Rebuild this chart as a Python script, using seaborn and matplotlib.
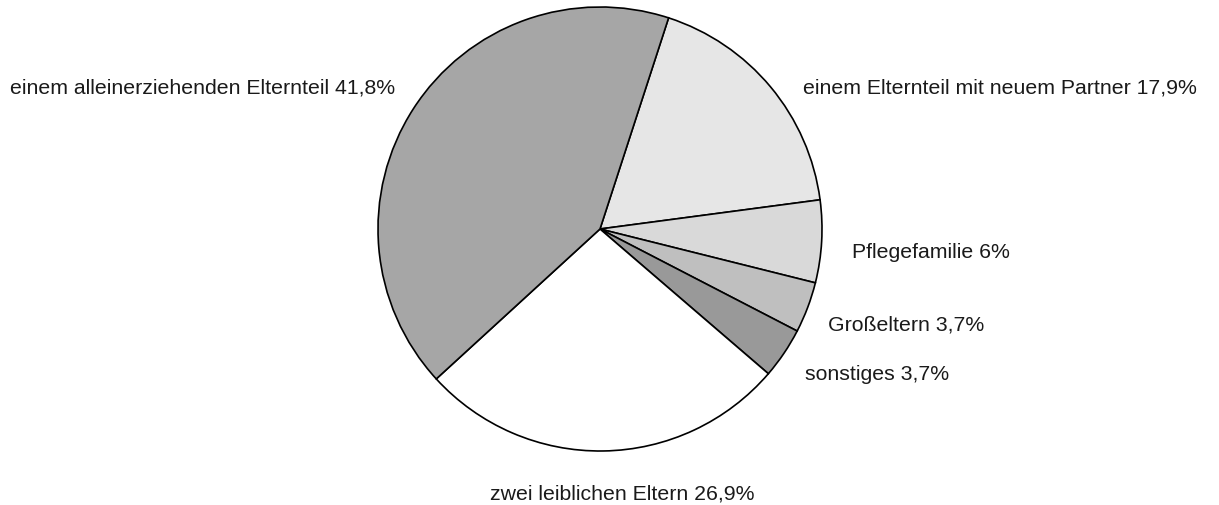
import matplotlib
matplotlib.use("Agg")
import matplotlib.pyplot as plt
import seaborn as sns

# clockwise from the top right edge
labels = [
    "einem Elternteil mit neuem Partner",
    "Pflegefamilie",
    "Großeltern",
    "sonstiges",
    "zwei leiblichen Eltern",
    "einem alleinerziehenden Elternteil",
]
shares = [17.9, 6, 3.7, 3.7, 26.9, 41.8]
share_text = ["17,9%", "6%", "3,7%", "3,7%", "26,9%", "41,8%"]
colors = ["#e6e6e6", "#d9d9d9", "#bfbfbf", "#999999", "#ffffff", "#a6a6a6"]

# label anchors in pixel space (x, y from top), layout only
label_pos = [(803, 88, "left"), (852, 252, "left"), (828, 325, "left"),
             (805, 375, "left"), (490, 494, "left"), (10, 88, "left")]

W, H = 1219, 506
sns.set_theme(style="white")
plt.rcParams["font.family"] = ["Liberation Sans", "DejaVu Sans"]

fig = plt.figure(figsize=(W / 100, H / 100), dpi=100)
ax = fig.add_axes([0, 0, 1, 1])
ax.pie(
    shares,
    colors=colors,
    startangle=72,
    counterclock=False,
    center=(600, H - 230),
    radius=222,
    frame=True,
    wedgeprops=dict(edgecolor="black", linewidth=1.2),
)
for name, val, (x, y, ha) in zip(labels, share_text, label_pos):
    ax.text(x, H - y, f"{name} {val}", ha=ha, va="center", fontsize=15.3, color="#1a1a1a")

ax.set_xlim(0, W)
ax.set_ylim(0, H)
ax.set_aspect("equal")
ax.axis("off")
fig.savefig("out.png", dpi=100, facecolor="white")
